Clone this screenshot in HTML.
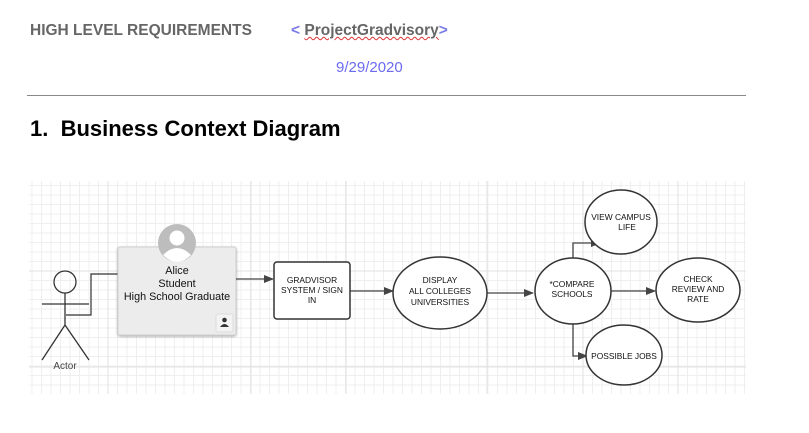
<!DOCTYPE html>
<html><head><meta charset="utf-8"><style>
body{margin:0;width:809px;height:433px;background:#fff;overflow:hidden;font-family:"Liberation Sans",sans-serif;position:relative}
.t{position:absolute;white-space:nowrap}
</style></head><body>
<div class="t" style="left:30px;top:22px;font-size:15.5px;font-weight:bold;color:#666">HIGH LEVEL REQUIREMENTS</div>
<div class="t" style="left:291px;top:22px;font-size:15.5px;font-weight:bold;color:#666"><span style="color:#7b7be8">&lt;</span> <span style="text-decoration:underline wavy #d33;text-decoration-thickness:1px">ProjectGradvisory</span><span style="color:#7b7be8">&gt;</span></div>
<div class="t" style="left:336px;top:59px;font-size:15px;color:#6b6bf0">9/29/2020</div>
<div style="position:absolute;left:27px;top:95px;width:719px;height:1px;background:#888"></div>
<div class="t" style="left:30px;top:116px;font-size:22px;font-weight:bold;color:#000">1.&nbsp; Business Context Diagram</div>
<svg width="809" height="433" style="position:absolute;left:0;top:0" font-family="Liberation Sans, sans-serif">
<defs>
<pattern id="g" x="29" y="181" width="9.5" height="9.5" patternUnits="userSpaceOnUse">
<path d="M3 0V9.5M0 4.5H9.5" stroke="#efefef" stroke-width="1"/>
</pattern>
<marker id="a" markerWidth="10" markerHeight="8" refX="9" refY="4" orient="auto" markerUnits="userSpaceOnUse"><path d="M0 0L10 4L0 8z" fill="#444"/></marker>
<filter id="s"><feDropShadow dx="0" dy="1" stdDeviation="1.2" flood-opacity="0.35"/></filter>
</defs>
<rect x="29" y="181" width="717" height="213" fill="url(#g)"/>
<g stroke="#e0e0e0" stroke-width="1">
<path d="M108 181V394M251 181V394M346 181V394M487 181V394M583 181V394M678 181V394M29 271H746M29 367H746"/>
</g>
<g stroke="#333" stroke-width="1.3" fill="none">
<circle cx="65" cy="282" r="11"/>
<path d="M65 293V325M42 304H89M65 325L42 360M65 325L89 360"/>
<path d="M66 315H91V274H118" stroke-width="1.2"/>
</g>
<text x="65" y="369" font-size="10" fill="#444" text-anchor="middle">Actor</text>
<rect x="118" y="247" width="118" height="88" rx="2" fill="#ececec" stroke="#d0d0d0" filter="url(#s)"/>
<circle cx="177" cy="243" r="19" fill="#bdbdbd"/>
<circle cx="177" cy="238" r="7.5" fill="#fff"/>
<path d="M163 255Q177 241 191 255Q184 262 177 262Q170 262 163 255z" fill="#fff"/>
<g font-size="10.8" fill="#111" text-anchor="middle">
<text x="177" y="274">Alice</text><text x="177" y="287">Student</text><text x="177" y="300">High School Graduate</text>
</g>
<rect x="216" y="314" width="17" height="18" rx="2" fill="#f3f3f3" stroke="#ddd"/>
<circle cx="224.5" cy="320" r="2.3" fill="#333"/><path d="M220 327Q224.5 321 229 327z" fill="#333"/>
<g stroke="#444" stroke-width="1.3" fill="none" marker-end="url(#a)">
<path d="M236 279H273"/>
<path d="M350 291H393"/>
<path d="M487 293H533"/>
<path d="M611 291H655"/>
<path d="M573 262V243H600"/>
<path d="M573 320V356H587"/>
</g>
<rect x="274" y="262" width="76" height="57" rx="3" fill="#fff" stroke="#333" stroke-width="1.5"/>
<g font-size="8.4" fill="#111" text-anchor="middle">
<text x="312" y="283">GRADVISOR</text><text x="312" y="293">SYSTEM / SIGN</text><text x="312" y="303">IN</text>
</g>
<g fill="#fff" stroke="#333" stroke-width="1.5">
<ellipse cx="440" cy="293" rx="47" ry="36"/>
<ellipse cx="573" cy="291" rx="38" ry="33"/>
<ellipse cx="698" cy="290" rx="42" ry="32"/>
<ellipse cx="621" cy="222" rx="36" ry="32"/>
<ellipse cx="624" cy="355" rx="38" ry="30"/>
</g>
<g font-size="8.4" fill="#111" text-anchor="middle">
<text x="440" y="283">DISPLAY</text><text x="440" y="294">ALL COLLEGES</text><text x="440" y="305">UNIVERSITIES</text>
<text x="572" y="287">*COMPARE</text><text x="572" y="297">SCHOOLS</text>
<text x="698" y="282">CHECK</text><text x="698" y="292">REVIEW AND</text><text x="698" y="302">RATE</text>
<text x="621" y="220">VIEW CAMPUS</text><text x="627" y="230">LIFE</text>
<text x="624" y="359">POSSIBLE JOBS</text>
</g>
</svg>
</body></html>
